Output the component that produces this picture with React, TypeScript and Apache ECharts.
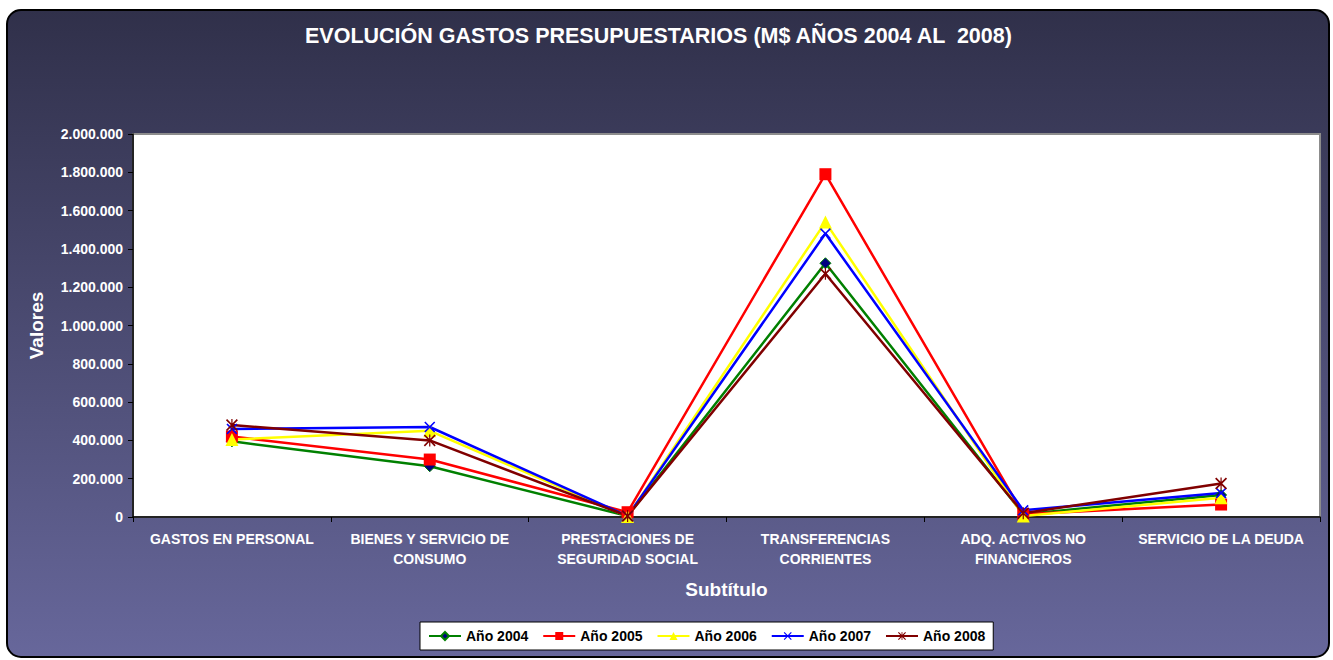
import React, { useEffect, useRef } from "react";
import * as echarts from "echarts";

const categories = [
  "GASTOS EN PERSONAL",
  "BIENES Y SERVICIO DE\nCONSUMO",
  "PRESTACIONES DE\nSEGURIDAD SOCIAL",
  "TRANSFERENCIAS\nCORRIENTES",
  "ADQ. ACTIVOS NO\nFINANCIEROS",
  "SERVICIO DE LA DEUDA",
];

const year2004 = [395000, 265000, 5000, 1325000, 15000, 115000];
const year2005 = [420000, 300000, 25000, 1790000, 15000, 65000];
const year2006 = [405000, 450000, 3000, 1540000, 5000, 100000];
const year2007 = [460000, 470000, 5000, 1480000, 35000, 125000];
const year2008 = [480000, 400000, 5000, 1270000, 20000, 175000];

const seriesNames = ["Año 2004", "Año 2005", "Año 2006", "Año 2007", "Año 2008"];

const FONT = "'Liberation Sans', Arial, sans-serif";

const X_PATH =
  "path://M0,1L1,0L5,4L9,0L10,1L6,5L10,9L9,10L5,6L1,10L0,9L4,5Z";
const STAR_PATH =
  "path://M0,1L1,0L5,4L9,0L10,1L6,5L10,9L9,10L5,6L1,10L0,9L4,5ZM4.5,0L5.5,0L5.5,10L4.5,10Z";

function fmt(v: number): string {
  const s = Math.round(v).toString();
  return s.replace(/\B(?=(\d{3})+(?!\d))/g, ".");
}

export default function App() {
  const ref = useRef<HTMLDivElement>(null);

  useEffect(() => {
    document.body.style.margin = "0";
    if (!ref.current) return;
    const chart = echarts.init(ref.current, null, { renderer: "svg" });

    const mk = (
      name: string,
      data: number[],
      color: string,
      symbol: string,
      size: number,
      markerColor?: string
    ) => ({
      name,
      type: "line",
      data,
      symbol,
      symbolSize: size,
      showSymbol: true,
      lineStyle: { color, width: 2.5 },
      itemStyle: {
        color: markerColor || color,
        borderColor: color,
        borderWidth: markerColor ? 1 : 0,
      },
      emphasis: { disabled: true },
      z: 3,
    });

    chart.setOption({
      animation: false,
      graphic: [
        {
          type: "rect",
          z: -10,
          shape: { x: 7, y: 10, width: 1322, height: 647, r: 14 },
          style: {
            fill: new echarts.graphic.LinearGradient(0, 0, 0, 1, [
              { offset: 0, color: "#30304a" },
              { offset: 1, color: "#67679b" },
            ]),
            stroke: "#000000",
            lineWidth: 2,
          },
        },
      ],
      title: {
        text: "EVOLUCIÓN GASTOS PRESUPUESTARIOS (M$ AÑOS 2004 AL  2008)",
        left: 300,
        top: 20,
        textStyle: {
          color: "#ffffff",
          fontFamily: FONT,
          fontWeight: "bold",
          fontSize: 21.5,
        },
      },
      grid: {
        left: 133,
        right: 13,
        top: 134,
        bottom: 143,
        show: true,
        backgroundColor: "#ffffff",
        borderColor: "#8c8c8c",
        borderWidth: 2,
      },
      legend: {
        left: 420,
        top: 622,
        data: seriesNames,
        backgroundColor: "#ffffff",
        borderColor: "#000000",
        borderWidth: 1,
        padding: [7, 8, 7, 8],
        itemGap: 14,
        itemWidth: 32,
        itemHeight: 10,
        textStyle: {
          color: "#000000",
          fontFamily: FONT,
          fontWeight: "bold",
          fontSize: 14,
        },
      },
      xAxis: {
        type: "category",
        data: categories,
        boundaryGap: true,
        name: "Subtítulo",
        nameLocation: "middle",
        nameGap: 63,
        nameTextStyle: {
          color: "#ffffff",
          fontFamily: FONT,
          fontWeight: "bold",
          fontSize: 19,
        },
        axisLine: { show: true, lineStyle: { color: "#000000", width: 1.5 } },
        axisTick: { show: true, length: 5, lineStyle: { color: "#000000" } },
        axisLabel: {
          color: "#ffffff",
          fontFamily: FONT,
          fontWeight: "bold",
          fontSize: 14,
          lineHeight: 20,
          margin: 12,
          interval: 0,
        },
        splitLine: { show: false },
      },
      yAxis: {
        type: "value",
        min: 0,
        max: 2000000,
        interval: 200000,
        name: "Valores",
        nameLocation: "middle",
        nameGap: 87,
        nameTextStyle: {
          color: "#ffffff",
          fontFamily: FONT,
          fontWeight: "bold",
          fontSize: 19,
        },
        axisLine: { show: true, lineStyle: { color: "#000000", width: 1.5 } },
        axisTick: { show: true, length: 5, lineStyle: { color: "#000000" } },
        axisLabel: {
          color: "#ffffff",
          fontFamily: FONT,
          fontWeight: "bold",
          fontSize: 14,
          margin: 10,
          formatter: (v: number) => fmt(v),
        },
        splitLine: { show: false },
      },
      series: [
        mk(seriesNames[0], year2004, "#008000", "diamond", 11, "#000080"),
        mk(seriesNames[1], year2005, "#ff0000", "rect", 12),
        mk(seriesNames[2], year2006, "#ffff00", "triangle", 13),
        mk(seriesNames[3], year2007, "#0000ff", X_PATH, 11),
        mk(seriesNames[4], year2008, "#800000", STAR_PATH, 12),
      ],
    });

    return () => chart.dispose();
  }, []);

  return <div ref={ref} style={{ width: 1333, height: 660 }} />;
}
